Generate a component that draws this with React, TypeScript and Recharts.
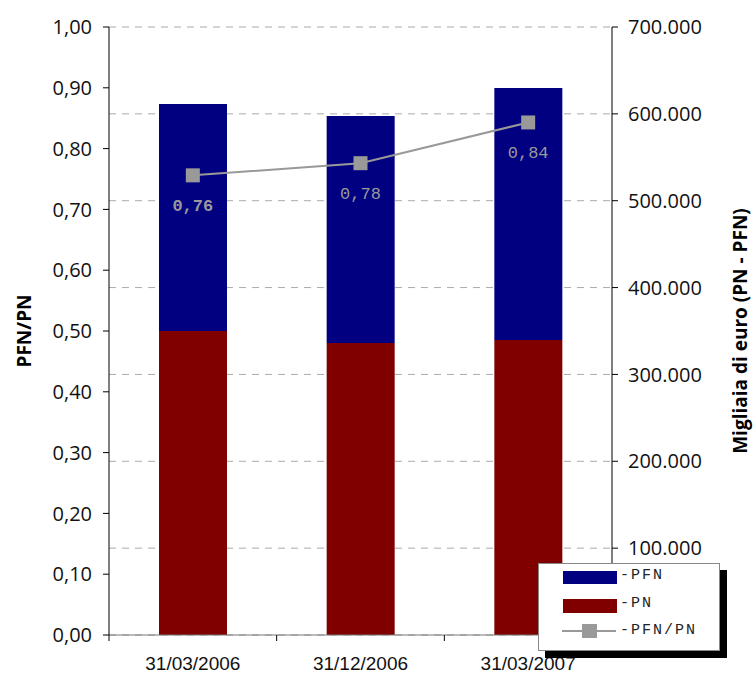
import React from 'react';
import { ComposedChart, Bar, Line, XAxis, YAxis, CartesianGrid, LabelList } from 'recharts';

// values
const dates = ['31/03/2006', '31/12/2006', '31/03/2007'];
const pnValues = [350000, 336200, 339600];
const pfnValues = [261300, 261300, 290100];
const ratioValues = [0.756, 0.776, 0.843];

const leftTicks = [0, 0.1, 0.2, 0.3, 0.4, 0.5, 0.6, 0.7, 0.8, 0.9, 1];
const rightTicks = [0, 100000, 200000, 300000, 400000, 500000, 600000, 700000];

const chartData = dates.map((date, i) => ({
  date,
  PN: pnValues[i],
  PFN: pfnValues[i],
  ratio: ratioValues[i],
}));

const NAVY = '#000080';
const MAROON = '#800000';
const GREY = '#999999';

const PLOT_LEFT = 109;
const PLOT_RIGHT = 612;
const HALF_BAND = (PLOT_RIGHT - PLOT_LEFT) / dates.length / 2;

const tickFont = { fontFamily: 'Open Sans', fontSize: 20, fill: '#111' };

const fmtLeft = (v: number) => v.toFixed(2).replace('.', ',');
const fmtRight = (v: number) => String(v).replace(/\B(?=(\d{3})+(?!\d))/g, '.');

const DateTick = (props: any) => {
  const { x, y, payload } = props;
  return (
    <g>
      <line x1={x - HALF_BAND} x2={x - HALF_BAND} y1={y} y2={y + 6} stroke="#000" />
      <text x={x} y={y + 28} dy="0.355em" textAnchor="middle" fontFamily="Liberation Sans" fontSize={19} fill="#111">
        {payload.value}
      </text>
    </g>
  );
};

const SquareDot = (props: any) => {
  const { cx, cy } = props;
  if (cx == null || cy == null) return null;
  return <rect x={cx - 7} y={cy - 7} width={14} height={14} fill={GREY} />;
};

const RatioLabel = (props: any) => {
  const { x, y, value, index } = props;
  return (
    <text
      x={x}
      y={y + 36}
      textAnchor="middle"
      fontFamily="Liberation Mono"
      fontSize={17}
      fontWeight={index === 0 ? 'bold' : 'normal'}
      fill={GREY}
    >
      {fmtLeft(value)}
    </text>
  );
};

const legendText = { fontFamily: 'Liberation Mono', fontSize: 15, letterSpacing: 2, color: '#222', lineHeight: '17px' };

const LegendBox = () => (
  <div
    style={{
      position: 'absolute',
      left: 538,
      top: 563,
      width: 180,
      height: 86,
      background: '#fff',
      border: '1px solid #888',
      boxShadow: '7px 7px 0 #000',
    }}
  >
    <div style={{ position: 'absolute', left: 24, top: 7, width: 54, height: 13, background: NAVY }} />
    <div style={{ ...legendText, position: 'absolute', left: 81, top: 3 }}>-PFN</div>
    <div style={{ position: 'absolute', left: 24, top: 35, width: 54, height: 14, background: MAROON }} />
    <div style={{ ...legendText, position: 'absolute', left: 81, top: 31 }}>-PN</div>
    <div style={{ position: 'absolute', left: 23, top: 66, width: 54, height: 2, background: GREY }} />
    <div style={{ position: 'absolute', left: 43, top: 60, width: 15, height: 14, background: GREY }} />
    <div style={{ ...legendText, position: 'absolute', left: 81, top: 58 }}>-PFN/PN</div>
  </div>
);

export default function App() {
  return (
    <div style={{ position: 'absolute', left: 0, top: 0, width: 753, height: 673, background: '#fff' }}>
      <ComposedChart
        width={753}
        height={673}
        data={chartData}
        margin={{ top: 27, right: 0, bottom: 0, left: 0 }}
      >
        <CartesianGrid yAxisId="right" vertical={false} stroke="#aaaaaa" strokeDasharray="7 6" />
        <XAxis
          dataKey="date"
          height={38}
          axisLine={{ stroke: '#777' }}
          tickLine={false}
          tickSize={0}
          tickMargin={0}
          tick={<DateTick />}
        />
        <YAxis
          yAxisId="left"
          domain={[0, 1]}
          ticks={leftTicks}
          width={PLOT_LEFT}
          tickFormatter={fmtLeft}
          tick={tickFont}
          tickSize={6}
          tickMargin={11}
          axisLine={{ stroke: '#000' }}
          tickLine={{ stroke: '#000' }}
          label={{
            value: 'PFN/PN',
            angle: -90,
            position: 'insideLeft',
            offset: 24,
            style: { fontFamily: 'Open Sans', fontSize: 19, fontWeight: 'bold', fill: '#000', textAnchor: 'middle' },
          }}
        />
        <YAxis
          yAxisId="right"
          orientation="right"
          domain={[0, 700000]}
          ticks={rightTicks}
          width={753 - PLOT_RIGHT}
          tickFormatter={fmtRight}
          tick={tickFont}
          tickSize={6}
          tickMargin={10}
          axisLine={{ stroke: '#000' }}
          tickLine={{ stroke: '#000' }}
          label={{
            value: 'Migliaia di euro (PN - PFN)',
            angle: -90,
            position: 'insideRight',
            offset: 13,
            style: { fontFamily: 'Open Sans', fontSize: 19, fontWeight: 'bold', fill: '#000', textAnchor: 'middle' },
          }}
        />
        <Bar yAxisId="right" dataKey="PN" stackId="a" fill={MAROON} barSize={68} isAnimationActive={false} />
        <Bar yAxisId="right" dataKey="PFN" stackId="a" fill={NAVY} barSize={68} isAnimationActive={false} />
        <Line
          yAxisId="left"
          dataKey="ratio"
          stroke={GREY}
          strokeWidth={2}
          dot={<SquareDot />}
          activeDot={false}
          isAnimationActive={false}
        >
          <LabelList dataKey="ratio" content={<RatioLabel />} />
        </Line>
      </ComposedChart>
      <LegendBox />
    </div>
  );
}
